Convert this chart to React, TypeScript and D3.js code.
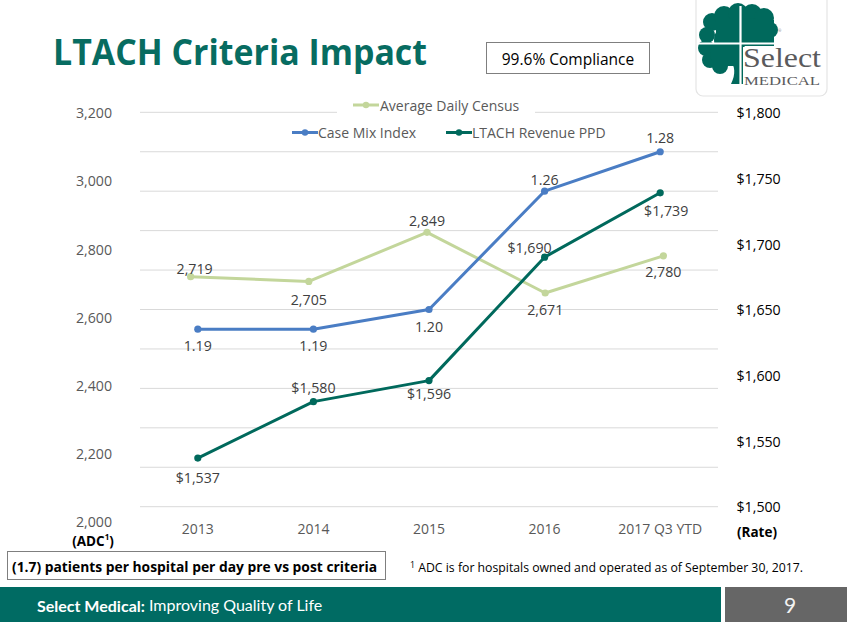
import React from "react";
import * as d3 from "d3";

const categories = ["2013", "2014", "2015", "2016", "2017 Q3 YTD"];
const adcValues = [2719, 2705, 2849, 2671, 2780];
const cmiValues = [1.19, 1.19, 1.2, 1.26, 1.28];
const revenueValues = [1537, 1580, 1596, 1690, 1739];
const adcTicks = [2000, 2200, 2400, 2600, 2800, 3000, 3200];
const rateTicks = [1500, 1550, 1600, 1650, 1700, 1750, 1800];
const cmiGridTicks = [1.1, 1.12, 1.14, 1.16, 1.18, 1.2, 1.22, 1.24, 1.26, 1.28, 1.3];

const W = 847;
const H = 635;
const TEAL = "#00695c";
const BLUE = "#4a7dc4";
const GREEN = "#c3d69b";
const LABEL = "#404040";
const AXIS = "#595959";
const FONT = "'Open Sans', 'Noto Sans', sans-serif";

export default function App() {
  const xMain = d3.scaleBand<string>().domain(categories).range([140, 718]).padding(0);
  const xAdc = d3.scaleBand<string>().domain(categories).range([131.5, 722.5]).padding(0);
  const cx = (s: d3.ScaleBand<string>, c: string) => (s(c) as number) + s.bandwidth() / 2;

  const yAdc = d3.scaleLinear().domain([2000, 3200]).range([521.7, 112.7]);
  const yRate = d3.scaleLinear().domain([1500, 1800]).range([506.7, 112.7]);
  const yCmi = d3.scaleLinear().domain([1.1, 1.3]).range([506.7, 112.3]);

  const fmtInt = d3.format(",");
  const fmtRate = (v: number) => "$" + d3.format(",")(v);
  const fmtCmi = d3.format(".2f");

  const adcPts = categories.map((c, i) => [cx(xAdc, c), yAdc(adcValues[i])] as [number, number]);
  const cmiPts = categories.map((c, i) => [cx(xMain, c), yCmi(cmiValues[i])] as [number, number]);
  const revPts = categories.map((c, i) => [cx(xMain, c), yRate(revenueValues[i])] as [number, number]);

  const line = d3.line<[number, number]>();

  // label placement (layout only)
  const adcDy = [-8, 18, -12, 16, 16];
  const adcDx = [4, 0, 0, 0, 0];
  const cmiDy = [16, 16, 17, -12, -14];
  const cmiDx = [0, 0, 0, 0, 0];
  const revDy = [19, -14, 13, -10, 18];
  const revDx = [0, 0, 0, -15, 6];

  const series = [
    { pts: adcPts, color: GREEN, vals: adcValues.map(fmtInt), dy: adcDy, dx: adcDx },
    { pts: cmiPts, color: BLUE, vals: cmiValues.map(fmtCmi), dy: cmiDy, dx: cmiDx },
    { pts: revPts, color: TEAL, vals: revenueValues.map(fmtRate), dy: revDy, dx: revDx },
  ];

  // logo canopy bumps
  const bumps: [number, number, number][] = [
    [712, 22, 9], [707, 35, 8], [706, 48, 8], [710, 60, 8], [720, 66, 8],
    [724, 16, 10], [738, 13, 10], [752, 14, 10], [764, 18, 10], [770, 30, 8],
    [730, 40, 16], [750, 32, 14], [722, 54, 12],
  ];

  return (
    <svg width={W} height={H} style={{ display: "block", position: "absolute", left: 0, top: 0 }}
      xmlns="http://www.w3.org/2000/svg">
      <rect x={0} y={0} width={W} height={H} fill="#ffffff" />

      {/* Title */}
      <text x={53} y={65} fontFamily={FONT} fontWeight={700} fontSize={36} fill="#076c61"
        textLength={374} lengthAdjust="spacingAndGlyphs">LTACH Criteria Impact</text>

      {/* Compliance box */}
      <rect x={486.5} y={42.5} width={163} height={31} fill="#fff" stroke="#7f7f7f" strokeWidth={1} />
      <text x={568} y={59} fontFamily={FONT} fontSize={15.5} fill="#000" textAnchor="middle"
        dominantBaseline="central">99.6% Compliance</text>

      {/* Logo */}
      <g>
        <rect x={696} y={-8} width={131} height={104} rx={7} fill="#fff" stroke="#e4e4e4" strokeWidth={1.2} />
        <g fill={TEAL}>
          {bumps.map((b, i) => <circle key={i} cx={b[0]} cy={b[1]} r={b[2]} />)}
          <rect x={716} y={20} width={58} height={26} />
          <path d="M730,60 C735,66 736,74 731,84 L752,84 C745,76 744,68 746,48 L730,48 Z" />
          <rect x={712} y={44} width={30} height={22} />
        </g>
        <rect x={743} y={47} width={40} height={40} fill="#fff" />
        <line x1={740.5} y1={6} x2={740.5} y2={84} stroke="#fff" strokeWidth={2.2} />
        <line x1={698} y1={43.5} x2={778} y2={43.5} stroke="#fff" strokeWidth={2.2} />
        <text x={743} y={67} fontFamily="'Liberation Serif', 'DejaVu Serif', serif" fontSize={27}
          fill="#5a5a5c" textLength={78} lengthAdjust="spacingAndGlyphs">Select</text>
        <text x={744} y={84.5} fontFamily="'Liberation Serif', 'DejaVu Serif', serif" fontSize={11.5}
          fill="#5a5a5c" textLength={76} lengthAdjust="spacingAndGlyphs">MEDICAL</text>
        <text x={778} y={32} fontFamily={FONT} fontSize={4} fill="#777">®</text>
      </g>

      {/* Gridlines from case mix axis */}
      {cmiGridTicks.map((t) => (
        <line key={t} x1={140} x2={718} y1={yCmi(t)} y2={yCmi(t)} stroke="#d9d9d9" strokeWidth={1} />
      ))}

      {/* Left axis labels */}
      {adcTicks.map((t) => (
        <text key={t} x={112} y={yAdc(t)} fontFamily={FONT} fontSize={14.2} fill={AXIS}
          textAnchor="end" dominantBaseline="central">{fmtInt(t)}</text>
      ))}
      <text x={93} y={541} fontFamily={FONT} fontSize={13.5} fontWeight={700} fill="#000"
        textAnchor="middle" dominantBaseline="central">
        (ADC<tspan fontSize={8} dy={-5}>1</tspan><tspan dy={5}>)</tspan>
      </text>

      {/* Right axis labels */}
      {rateTicks.map((t) => (
        <text key={t} x={736.5} y={yRate(t)} fontFamily={FONT} fontSize={14.2} fill="#000"
          textAnchor="start" dominantBaseline="central">{fmtRate(t)}</text>
      ))}
      <text x={757} y={532} fontFamily={FONT} fontSize={13.5} fontWeight={700} fill="#000"
        textAnchor="middle" dominantBaseline="central">(Rate)</text>

      {/* X axis labels */}
      {categories.map((c) => (
        <text key={c} x={cx(xMain, c)} y={528} fontFamily={FONT} fontSize={14} fill={AXIS}
          textAnchor="middle" dominantBaseline="central">{c}</text>
      ))}

      {/* Legend */}
      <rect x={337} y={97} width={198} height={20} fill="#fff" />
      <g fontFamily={FONT} fontSize={14} fill={AXIS}>
        <line x1={353} x2={379} y1={105} y2={105} stroke={GREEN} strokeWidth={3} />
        <circle cx={366} cy={105} r={3.2} fill={GREEN} />
        <text x={380} y={105} dominantBaseline="central">Average Daily Census</text>
        <line x1={292} x2={318} y1={132.5} y2={132.5} stroke={BLUE} strokeWidth={3} />
        <circle cx={305} cy={132.5} r={3.2} fill={BLUE} />
        <text x={318} y={132.5} dominantBaseline="central">Case Mix Index</text>
        <line x1={446} x2={472} y1={132.5} y2={132.5} stroke={TEAL} strokeWidth={3} />
        <circle cx={459} cy={132.5} r={3.2} fill={TEAL} />
        <text x={472} y={132.5} dominantBaseline="central">LTACH Revenue PPD</text>
      </g>

      {/* Lines */}
      {series.map((s, si) => (
        <g key={si}>
          <path d={line(s.pts) as string} fill="none" stroke={s.color} strokeWidth={3}
            strokeLinejoin="round" strokeLinecap="round" />
          {s.pts.map((p, i) => <circle key={i} cx={p[0]} cy={p[1]} r={3.6} fill={s.color} />)}
        </g>
      ))}

      {/* Data labels */}
      {series.map((s, si) => (
        <g key={"l" + si}>
          {s.pts.map((p, i) => (
            <text key={i} x={p[0] + s.dx[i]} y={p[1] + s.dy[i]} fontFamily={FONT} fontSize={14.2}
              fill={LABEL} textAnchor="middle" dominantBaseline="central">{s.vals[i]}</text>
          ))}
        </g>
      ))}

      {/* Bottom callout */}
      <rect x={7.5} y={551.5} width={378} height={28} fill="#fff" stroke="#7f7f7f" strokeWidth={1} />
      <text x={12} y={566} fontFamily={FONT} fontWeight={700} fontSize={14.5} fill="#000"
        dominantBaseline="central" textLength={365} lengthAdjust="spacingAndGlyphs">
        (1.7) patients per hospital per day pre vs post criteria</text>

      {/* Footnote */}
      <text x={410} y={567} fontFamily={FONT} fontSize={12.5} fill="#000" dominantBaseline="central"
        textLength={393} lengthAdjust="spacingAndGlyphs">
        <tspan fontSize={9} dy={-3}>1</tspan><tspan dy={3}> ADC is for hospitals owned and operated as of September 30, 2017.</tspan>
      </text>

      {/* Footer */}
      <rect x={0} y={587} width={721} height={35} fill="#006b63" />
      <rect x={725} y={587} width={122} height={35} fill="#666666" />
      <text x={37} y={604.5} fontFamily="Lato, 'Open Sans', sans-serif" fontSize={16} fill="#fff"
        dominantBaseline="central">
        <tspan fontWeight={700}>Select Medical:</tspan> Improving Quality of Life</text>
      <text x={790} y={604.5} fontFamily="Lato, 'Open Sans', sans-serif" fontSize={21} fill="#f2f2f2"
        textAnchor="middle" dominantBaseline="central">9</text>
    </svg>
  );
}
